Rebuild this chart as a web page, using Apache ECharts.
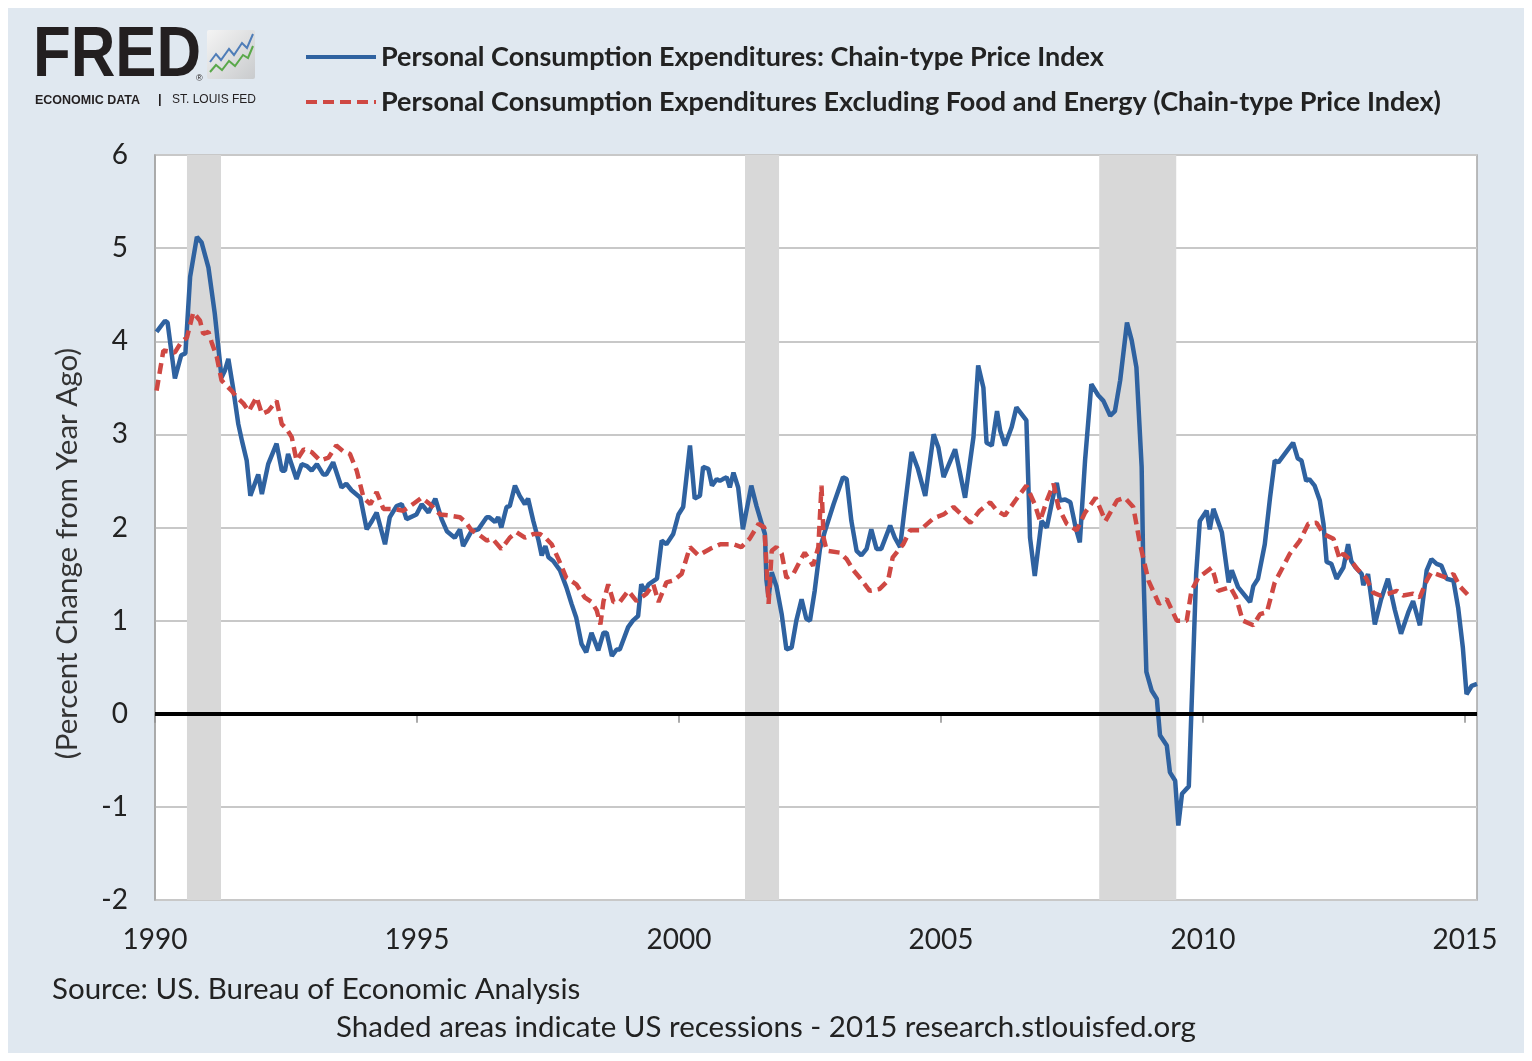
<!DOCTYPE html>
<html>
<head>
<meta charset="utf-8">
<title>PCE Price Index</title>
<script src="https://cdn.jsdelivr.net/npm/echarts@6/dist/echarts.min.js"></script>
<style>
  html, body { margin: 0; padding: 0; background: #fff; }
  #chart { width: 1532px; height: 1061px; }
</style>
</head>
<body>
<div id="chart"></div>
<script>
// Percent change from year ago (decimal years)
const pceYear = [
  1990.03, 1990.19, 1990.24, 1990.38, 1990.50, 1990.58, 1990.67, 1990.80, 1990.89, 1991.02,
  1991.14, 1991.27, 1991.33, 1991.40, 1991.49, 1991.59, 1991.66, 1991.75, 1991.82, 1991.97,
  1992.04, 1992.16, 1992.32, 1992.42, 1992.48, 1992.54, 1992.70, 1992.80, 1992.90, 1992.99,
  1993.09, 1993.21, 1993.27, 1993.40, 1993.56, 1993.65, 1993.75, 1993.92, 1994.04, 1994.14,
  1994.23, 1994.39, 1994.48, 1994.61, 1994.71, 1994.80, 1994.99, 1995.09, 1995.22, 1995.35,
  1995.47, 1995.57, 1995.72, 1995.82, 1995.88, 1996.04, 1996.17, 1996.33, 1996.38, 1996.49,
  1996.55, 1996.61, 1996.71, 1996.77, 1996.87, 1996.96, 1997.06, 1997.12, 1997.22, 1997.32,
  1997.38, 1997.45, 1997.51, 1997.60, 1997.73, 1997.85, 1997.95, 1998.04, 1998.14, 1998.23,
  1998.33, 1998.46, 1998.56, 1998.62, 1998.72, 1998.81, 1998.87, 1999.03, 1999.12, 1999.22,
  1999.28, 1999.35, 1999.42, 1999.58, 1999.67, 1999.76, 1999.89, 1999.99, 2000.08, 2000.21,
  2000.30, 2000.40, 2000.46, 2000.56, 2000.63, 2000.72, 2000.78, 2000.84, 2000.91, 2000.97,
  2001.04, 2001.13, 2001.22, 2001.38, 2001.48, 2001.58, 2001.64, 2001.67, 2001.71, 2001.77,
  2001.86, 2001.96, 2002.05, 2002.15, 2002.24, 2002.34, 2002.43, 2002.50, 2002.59, 2002.69,
  2002.78, 2002.95, 2003.13, 2003.20, 2003.29, 2003.39, 2003.48, 2003.58, 2003.67, 2003.77,
  2003.86, 2004.03, 2004.12, 2004.22, 2004.31, 2004.44, 2004.56, 2004.70, 2004.86, 2004.95,
  2005.05, 2005.27, 2005.46, 2005.62, 2005.71, 2005.81, 2005.87, 2005.97, 2006.07, 2006.13,
  2006.22, 2006.35, 2006.44, 2006.63, 2006.70, 2006.79, 2006.92, 2007.02, 2007.15, 2007.21,
  2007.27, 2007.37, 2007.47, 2007.57, 2007.65, 2007.75, 2007.87, 2008.00, 2008.10, 2008.23,
  2008.32, 2008.42, 2008.55, 2008.64, 2008.73, 2008.83, 2008.86, 2008.92, 2009.02, 2009.12,
  2009.18, 2009.31, 2009.37, 2009.47, 2009.53, 2009.60, 2009.73, 2009.87, 2009.94, 2010.07,
  2010.13, 2010.20, 2010.36, 2010.49, 2010.55, 2010.67, 2010.90, 2010.96, 2011.05, 2011.18,
  2011.28, 2011.37, 2011.44, 2011.60, 2011.72, 2011.81, 2011.88, 2011.97, 2012.03, 2012.13,
  2012.23, 2012.30, 2012.36, 2012.45, 2012.55, 2012.68, 2012.77, 2012.83, 2012.90, 2013.03,
  2013.06, 2013.15, 2013.28, 2013.40, 2013.53, 2013.66, 2013.78, 2013.92, 2014.01, 2014.14,
  2014.27, 2014.36, 2014.46, 2014.55, 2014.65, 2014.78, 2014.87, 2014.96, 2015.03, 2015.13,
  2015.23
];
const pceValue = [
  4.10, 4.22, 4.20, 3.60, 3.85, 3.87, 4.69, 5.12, 5.06, 4.79,
  4.30, 3.61, 3.68, 3.81, 3.50, 3.11, 2.93, 2.72, 2.34, 2.57,
  2.36, 2.68, 2.90, 2.61, 2.61, 2.79, 2.52, 2.68, 2.66, 2.61,
  2.68, 2.57, 2.57, 2.70, 2.43, 2.47, 2.40, 2.32, 1.98, 2.07,
  2.16, 1.82, 2.11, 2.23, 2.25, 2.09, 2.14, 2.25, 2.16, 2.31,
  2.09, 1.96, 1.89, 1.98, 1.80, 1.96, 1.98, 2.11, 2.11, 2.06,
  2.11, 2.00, 2.22, 2.23, 2.45, 2.34, 2.25, 2.31, 2.07, 1.86,
  1.70, 1.80, 1.68, 1.64, 1.54, 1.36, 1.18, 1.03, 0.75, 0.66,
  0.87, 0.68, 0.87, 0.87, 0.62, 0.69, 0.69, 0.93, 1.00, 1.05,
  1.39, 1.32, 1.39, 1.45, 1.86, 1.82, 1.93, 2.14, 2.22, 2.88,
  2.31, 2.34, 2.65, 2.63, 2.45, 2.52, 2.50, 2.52, 2.54, 2.43,
  2.59, 2.43, 1.98, 2.45, 2.23, 2.04, 1.93, 1.43, 1.25, 1.52,
  1.37, 1.07, 0.69, 0.71, 1.00, 1.23, 1.02, 1.00, 1.32, 1.77,
  1.95, 2.25, 2.54, 2.52, 2.07, 1.75, 1.70, 1.77, 1.98, 1.77,
  1.77, 2.02, 1.89, 1.79, 2.22, 2.81, 2.63, 2.34, 3.00, 2.86,
  2.54, 2.84, 2.32, 2.97, 3.74, 3.50, 2.91, 2.88, 3.25, 3.04,
  2.88, 3.08, 3.29, 3.15, 1.89, 1.48, 2.07, 2.00, 2.36, 2.48,
  2.29, 2.30, 2.27, 2.00, 1.84, 2.72, 3.54, 3.42, 3.36, 3.20,
  3.25, 3.58, 4.20, 4.01, 3.72, 2.65, 1.60, 0.45, 0.25, 0.16,
  -0.23, -0.34, -0.63, -0.72, -1.20, -0.86, -0.78, 1.50, 2.07, 2.18,
  1.98, 2.20, 1.95, 1.41, 1.54, 1.36, 1.20, 1.37, 1.45, 1.82,
  2.32, 2.72, 2.70, 2.82, 2.91, 2.74, 2.72, 2.50, 2.52, 2.45,
  2.29, 2.04, 1.63, 1.61, 1.45, 1.57, 1.82, 1.64, 1.58, 1.50,
  1.38, 1.50, 0.96, 1.23, 1.45, 1.12, 0.86, 1.09, 1.21, 0.95,
  1.54, 1.66, 1.61, 1.59, 1.45, 1.43, 1.14, 0.71, 0.21, 0.30,
  0.32
];

const coreYear = [
  1990.03, 1990.16, 1990.38, 1990.50, 1990.61, 1990.73, 1990.86, 1990.92, 1991.02, 1991.08,
  1991.18, 1991.27, 1991.37, 1991.46, 1991.56, 1991.69, 1991.79, 1991.94, 1992.04, 1992.16,
  1992.32, 1992.42, 1992.51, 1992.61, 1992.70, 1992.84, 1992.99, 1993.15, 1993.31, 1993.46,
  1993.59, 1993.72, 1993.85, 1993.98, 1994.11, 1994.23, 1994.36, 1994.55, 1994.74, 1994.92,
  1995.09, 1995.25, 1995.44, 1995.60, 1995.82, 1995.94, 1996.04, 1996.17, 1996.33, 1996.44,
  1996.61, 1996.77, 1996.90, 1997.06, 1997.22, 1997.35, 1997.45, 1997.57, 1997.70, 1997.85,
  1998.04, 1998.20, 1998.33, 1998.43, 1998.50, 1998.56, 1998.65, 1998.75, 1998.87, 1999.03,
  1999.19, 1999.38, 1999.51, 1999.61, 1999.76, 1999.89, 2000.05, 2000.21, 2000.37, 2000.59,
  2000.79, 2001.04, 2001.19, 2001.35, 2001.52, 2001.63, 2001.71, 2001.77, 2001.86, 2001.96,
  2002.05, 2002.18, 2002.31, 2002.40, 2002.56, 2002.66, 2002.72, 2002.76, 2002.82, 2003.07,
  2003.20, 2003.33, 2003.45, 2003.64, 2003.83, 2003.99, 2004.08, 2004.28, 2004.41, 2004.60,
  2004.86, 2005.05, 2005.24, 2005.41, 2005.56, 2005.74, 2005.94, 2006.07, 2006.22, 2006.42,
  2006.63, 2006.79, 2006.89, 2007.02, 2007.15, 2007.24, 2007.40, 2007.59, 2007.75, 2007.95,
  2008.14, 2008.36, 2008.51, 2008.67, 2008.80, 2008.96, 2009.16, 2009.31, 2009.50, 2009.69,
  2009.78, 2009.91, 2010.17, 2010.23, 2010.29, 2010.52, 2010.63, 2010.76, 2010.96, 2011.09,
  2011.22, 2011.37, 2011.66, 2011.85, 2012.01, 2012.17, 2012.30, 2012.49, 2012.61, 2012.68,
  2012.83, 2012.95, 2013.11, 2013.25, 2013.38, 2013.54, 2013.70, 2013.82, 2014.01, 2014.14,
  2014.27, 2014.36, 2014.55, 2014.65, 2014.78, 2014.90, 2015.05
];
const coreValue = [
  3.47, 3.90, 3.88, 3.99, 4.04, 4.31, 4.22, 4.08, 4.10, 3.99,
  3.83, 3.58, 3.52, 3.47, 3.40, 3.33, 3.25, 3.40, 3.22, 3.25,
  3.36, 3.11, 3.06, 2.97, 2.72, 2.84, 2.81, 2.72, 2.75, 2.88,
  2.82, 2.79, 2.61, 2.32, 2.25, 2.38, 2.20, 2.20, 2.18, 2.25,
  2.32, 2.25, 2.14, 2.13, 2.11, 2.05, 1.97, 1.93, 1.86, 1.88,
  1.77, 1.89, 1.95, 1.89, 1.93, 1.93, 1.89, 1.82, 1.66, 1.46,
  1.39, 1.25, 1.20, 1.11, 0.96, 1.21, 1.39, 1.20, 1.20, 1.32,
  1.21, 1.29, 1.39, 1.20, 1.41, 1.43, 1.50, 1.79, 1.70, 1.77,
  1.82, 1.82, 1.79, 1.88, 2.04, 2.00, 1.18, 1.75, 1.79, 1.72,
  1.46, 1.50, 1.64, 1.73, 1.59, 1.79, 2.45, 1.89, 1.75, 1.73,
  1.66, 1.54, 1.46, 1.32, 1.34, 1.43, 1.68, 1.82, 1.97, 1.97,
  2.10, 2.14, 2.22, 2.13, 2.05, 2.18, 2.27, 2.18, 2.13, 2.29,
  2.45, 2.25, 2.07, 2.29, 2.47, 2.22, 2.04, 1.97, 2.16, 2.32,
  2.07, 2.29, 2.32, 2.22, 1.82, 1.43, 1.18, 1.23, 1.00, 1.00,
  1.32, 1.46, 1.57, 1.46, 1.32, 1.36, 1.25, 1.00, 0.95, 1.07,
  1.09, 1.41, 1.72, 1.86, 2.04, 2.05, 1.93, 1.88, 1.66, 1.72,
  1.64, 1.55, 1.46, 1.30, 1.27, 1.29, 1.32, 1.27, 1.29, 1.25,
  1.43, 1.52, 1.48, 1.46, 1.50, 1.37, 1.28
];

// US recessions (shaded), start / end in decimal years
const recessionStart = [1990.61, 2001.26, 2008.02];
const recessionEnd = [1991.26, 2001.91, 2009.49];

const xTicks = [1990, 1995, 2000, 2005, 2010, 2015];
const seriesNames = [
  'Personal Consumption Expenditures: Chain-type Price Index',
  'Personal Consumption Expenditures Excluding Food and Energy (Chain-type Price Index)'
];

const pair = (xs, ys) => xs.map((x, i) => [x, ys[i]]);

var myChart = echarts.init(document.getElementById('chart'));
var option = {
  backgroundColor: '#e0e8f0',
  animation: false,
  textStyle: { fontFamily: 'Lato, "Open Sans", sans-serif' },
  grid: {
    left: 155, right: 55, top: 155, bottom: 161,
    show: true,
    backgroundColor: '#ffffff',
    borderColor: '#a6a6a6',
    borderWidth: 1.5
  },
  legend: {
    data: seriesNames,
    orient: 'vertical',
    left: 304,
    top: 42,
    padding: 0,
    itemWidth: 70,
    itemHeight: 14,
    itemGap: 15,
    itemStyle: { opacity: 0 },
    lineStyle: { width: 4 },
    textStyle: {
      fontSize: 27,
      fontWeight: 'bold',
      color: '#222',
      lineHeight: 30,
      fontFamily: 'Lato, sans-serif'
    }
  },
  xAxis: {
    type: 'value',
    min: 1990,
    max: 2015.23,
    interval: 5,
    axisLine: { show: true, lineStyle: { color: '#a6a6a6', width: 1.5 } },
    axisTick: { show: true, length: 9, customValues: xTicks, lineStyle: { color: '#909090', width: 1.5 } },
    axisLabel: {
      customValues: xTicks,
      fontSize: 28,
      color: '#222',
      margin: 26,
      formatter: v => String(Math.round(v))
    },
    splitLine: { show: false }
  },
  yAxis: {
    type: 'value',
    min: -2,
    max: 6,
    interval: 1,
    name: '(Percent Change from Year Ago)',
    nameLocation: 'middle',
    nameRotate: 90,
    nameGap: 73,
    nameTextStyle: { fontSize: 29.5, color: '#333', padding: [0, 52, 0, 0] },
    axisLine: { show: true, lineStyle: { color: '#a6a6a6', width: 1.5 } },
    axisTick: { show: false },
    axisLabel: { fontSize: 28, color: '#222', margin: 27 },
    splitLine: { lineStyle: { color: '#c8c8c8', width: 2 } }
  },
  series: [
    {
      name: seriesNames[0],
      type: 'line',
      data: pair(pceYear, pceValue),
      showSymbol: false,
      symbol: 'none',
      lineStyle: { color: '#2f62a0', width: 4.5 },
      itemStyle: { color: '#2f62a0' },
      z: 3,
      markArea: {
        silent: true,
        itemStyle: { color: '#d8d8d8' },
        data: recessionStart.map((s, i) => [{ xAxis: s }, { xAxis: recessionEnd[i] }])
      }
    },
    {
      name: seriesNames[1],
      type: 'line',
      data: pair(coreYear, coreValue),
      showSymbol: false,
      symbol: 'none',
      lineStyle: { color: '#cf4843', width: 4.5, type: [11, 6] },
      itemStyle: { color: '#cf4843' },
      z: 4,
      markLine: {
        silent: true,
        symbol: 'none',
        label: { show: false },
        lineStyle: { color: '#000', width: 4, type: 'solid' },
        data: [{ yAxis: 0 }]
      }
    }
  ],
  graphic: [
    // white frame around the picture
    { type: 'rect', shape: { x: 0, y: 0, width: 1532, height: 1061 },
      style: { fill: 'none', stroke: '#fff', lineWidth: 16 }, z: 100 },
    // FRED logo
    { type: 'text', left: 33, top: 21, scaleX: 0.87,
      style: { text: 'FRED', fontSize: 71, fontWeight: 900, fill: '#231f20',
               fontFamily: '"Liberation Sans", Arial, sans-serif' } },
    { type: 'text', left: 196, top: 74,
      style: { text: '®', fontSize: 9, fill: '#231f20' } },
    { type: 'rect', shape: { x: 207, y: 30, width: 48, height: 49, r: 2 },
      style: { fill: new echarts.graphic.LinearGradient(0, 0, 1, 1, [
        { offset: 0, color: '#f4f4f4' }, { offset: 1, color: '#c9cbcd' }]) } },
    { type: 'polyline', shape: { points: [[210, 62], [216, 54], [221, 60], [229, 49], [234, 55], [242, 43], [247, 48], [253, 34]] },
      style: { stroke: '#4f7db8', lineWidth: 2, fill: 'none' } },
    { type: 'polyline', shape: { points: [[210, 72], [216, 65], [222, 70], [229, 61], [235, 66], [243, 55], [248, 58], [253, 46]] },
      style: { stroke: '#5aa84a', lineWidth: 2, fill: 'none' } },
    { type: 'text', left: 35, top: 94,
      style: { text: 'ECONOMIC DATA', fontSize: 12.5, fontWeight: 'bold', fill: '#231f20',
               fontFamily: '"Liberation Sans", Arial, sans-serif' } },
    { type: 'text', left: 158, top: 93,
      style: { text: '|', fontSize: 13, fontWeight: 'bold', fill: '#231f20' } },
    { type: 'text', left: 172, top: 94,
      style: { text: 'ST. LOUIS FED', fontSize: 12, fill: '#231f20',
               fontFamily: '"Liberation Sans", Arial, sans-serif' } },
    // footer
    { type: 'text', left: 52, top: 974,
      style: { text: 'Source: US. Bureau of Economic Analysis', fontSize: 29.5, fill: '#222',
               fontFamily: 'Lato, sans-serif' } },
    { type: 'text', left: 'center', top: 1012,
      style: { text: 'Shaded areas indicate US recessions - 2015 research.stlouisfed.org', fontSize: 29.5, fill: '#222',
               fontFamily: 'Lato, sans-serif' } }
  ]
};
option && myChart.setOption(option);
</script>
</body>
</html>
